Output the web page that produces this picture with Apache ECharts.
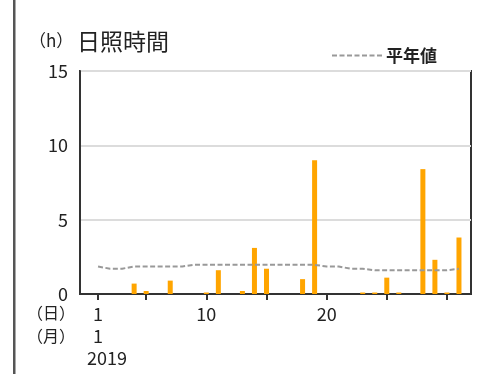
<!DOCTYPE html>
<html><head><meta charset="utf-8">
<script src="https://cdn.jsdelivr.net/npm/echarts@6/dist/echarts.min.js"></script>
<style>html,body{margin:0;padding:0;background:#fff}#c{width:491px;height:374px}</style>
</head><body><div id="c"></div>
<script>
const days = [1,2,3,4,5,6,7,8,9,10,11,12,13,14,15,16,17,18,19,20,21,22,23,24,25,26,27,28,29,30,31];
const sunshine = [0,0,0,0.7,0.2,0,0.9,0,0,0.1,1.6,0,0.2,3.1,1.7,0,0,1.0,9.0,0,0,0,0.1,0.1,1.1,0.1,0,8.4,2.3,0.1,3.8];
const normal = [1.85,1.7,1.7,1.85,1.85,1.85,1.85,1.85,1.96,1.96,1.96,1.96,1.96,1.96,1.96,1.96,1.96,1.96,1.96,1.85,1.85,1.7,1.7,1.6,1.6,1.6,1.6,1.6,1.6,1.6,1.7];
const yTicks = [0,5,10,15];
const xTickDays = [1,5,10,15,20,25,30];
const xLabelDays = [1,10,20];
const monthLabel = '1';
const yearLabel = '2019';
const FONT = '"Noto Sans CJK JP", "Noto Sans", sans-serif';

const chart = echarts.init(document.getElementById('c'), null, {renderer:'canvas'});
const option = {
  animation: false,
  textStyle: {fontFamily: FONT},
  grid: {left: 80, top: 71, right: 20, bottom: 80, show: true, borderColor: '#333', borderWidth: 2, backgroundColor: 'transparent'},
  legend: {
    data: ['平年値'], right: 49, top: 42, itemWidth: 51, itemHeight: 14, itemGap: 10,
    itemStyle: {color: 'rgba(0,0,0,0)', borderWidth: 0},
    textStyle: {fontSize: 17, fontWeight: 'bold', color: '#222', fontFamily: FONT, padding: [0,0,0,-2]}
  },
  xAxis: {
    type: 'value', min: -0.5, max: 32,
    axisLine: {show: true, onZero: false, lineStyle: {color: '#333', width: 2}},
    axisTick: {show: true, length: 6, lineStyle: {color: '#333', width: 2}, customValues: xTickDays},
    axisLabel: {customValues: xLabelDays, fontSize: 18, color: '#222', margin: 11, fontFamily: FONT},
    splitLine: {show: false}
  },
  yAxis: {
    type: 'value', min: 0, max: 15, interval: 5,
    axisLine: {show: true, onZero: false, lineStyle: {color: '#333', width: 2}},
    axisTick: {show: false},
    axisLabel: {fontSize: 18, color: '#222', margin: 12, fontFamily: FONT},
    splitLine: {show: true, lineStyle: {color: '#dcdcdc', width: 2}}
  },
  series: [
    {name: '日照時間', type: 'bar', barWidth: 5, itemStyle: {color: '#FFA500'},
     data: days.map((d,i) => [d, sunshine[i]])},
    {name: '平年値', type: 'line', symbol: 'none', showSymbol: false,
     lineStyle: {color: '#999', width: 2, type: [5,2.5]},
     data: days.map((d,i) => [d, normal[i]])}
  ]
};
chart.setOption(option);
const x1 = chart.convertToPixel({xAxisIndex: 0}, days[0]);
chart.setOption({
  graphic: [
    {type: 'rect', shape: {x: 13, y: 0, width: 2.5, height: 374}, style: {fill: '#555'}},
    {type: 'text', x: 29, y: 41, style: {text: '（h）', font: '17px ' + FONT, fill: '#222', textVerticalAlign: 'middle'}},
    {type: 'text', x: 77, y: 41, style: {text: '日照時間', font: '23px ' + FONT, fill: '#222', textVerticalAlign: 'middle'}},
    {type: 'text', x: 75, y: 313, style: {text: '（日）', font: '16px ' + FONT, fill: '#222', textAlign: 'right', textVerticalAlign: 'middle'}},
    {type: 'text', x: 75, y: 336, style: {text: '（月）', font: '16px ' + FONT, fill: '#222', textAlign: 'right', textVerticalAlign: 'middle'}},
    {type: 'text', x: x1, y: 336, style: {text: monthLabel, font: '18px ' + FONT, fill: '#222', textAlign: 'center', textVerticalAlign: 'middle'}},
    {type: 'text', x: x1 - 11, y: 358, style: {text: yearLabel, font: '18px ' + FONT, fill: '#222', textAlign: 'left', textVerticalAlign: 'middle'}}
  ]
});
</script>
</body></html>
